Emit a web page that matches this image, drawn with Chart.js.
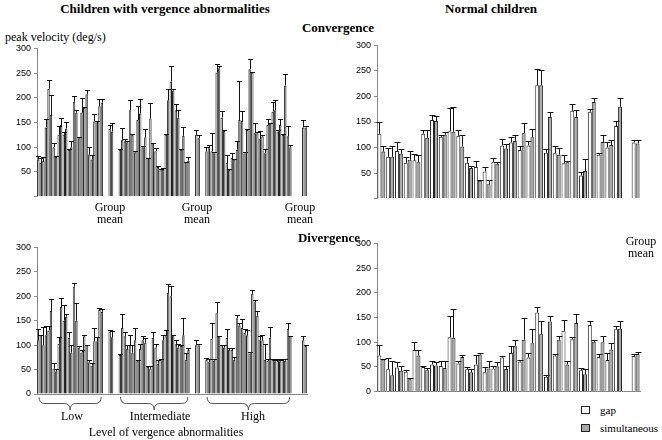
<!DOCTYPE html>
<html>
<head>
<meta charset="utf-8">
<script src="https://cdn.jsdelivr.net/npm/chart.js@4.4.1/dist/chart.umd.min.js"></script>
<style>
  body { margin: 0; width: 662px; height: 440px; background: #fff; position: relative; overflow: hidden; font-family: 'Liberation Serif', 'Times New Roman', serif; color: #000; }
  .panel { position: absolute; }
  .txt { position: absolute; white-space: nowrap; font-family: 'Liberation Serif', 'Times New Roman', serif; font-size: 12px; line-height: 12px; }
  .b { font-weight: bold; font-size: 13px; line-height: 13px; }
  .c { transform: translateX(-50%); text-align: center; }
  .sw { position: absolute; width: 7px; height: 6px; border: 1px solid #222; }
</style>
</head>
<body>

<div class="txt b c" style="left:165px; top:2px;">Children with vergence abnormalities</div>
<div class="txt b c" style="left:491px; top:2px;">Normal children</div>
<div class="txt b c" style="left:338px; top:21px;">Convergence</div>
<div class="txt" style="left:5px; top:31px;">peak velocity (deg/s)</div>

<div class="panel" style="left:0; top:40px;"><canvas id="convAbn" width="312" height="165"></canvas></div>
<div class="panel" style="left:340px; top:37px;"><canvas id="convNorm" width="310" height="170"></canvas></div>
<div class="panel" style="left:0; top:239px;"><canvas id="divAbn" width="312" height="175"></canvas></div>
<div class="panel" style="left:340px; top:235px;"><canvas id="divNorm" width="310" height="165"></canvas></div>

<div class="txt c" style="left:110px; top:201px;">Group<br>mean</div>
<div class="txt c" style="left:197px; top:201px;">Group<br>mean</div>
<div class="txt c" style="left:300px; top:201px;">Group<br>mean</div>
<div class="txt c" style="left:641px; top:235px;">Group<br>mean</div>

<div class="txt b c" style="left:329px; top:231px;">Divergence</div>

<div class="txt c" style="left:72px; top:410px;">Low</div>
<div class="txt c" style="left:160px; top:410px;">Intermediate</div>
<div class="txt c" style="left:253px; top:410px;">High</div>
<div class="txt c" style="left:166px; top:426px;">Level of vergence abnormalities</div>

<div class="sw" style="left:581px; top:406px; background:#fff;"></div>
<div class="txt" style="left:600px; top:404px; font-size:11px;">gap</div>
<div class="sw" style="left:581px; top:424px; background:#a8a8a8;"></div>
<div class="txt" style="left:600px; top:422px; font-size:11px;">simultaneous</div>

<script>
// Children with vergence abnormalities: slots = low(13), -, mean, -, intermediate(14), -, mean, -, high(17), -, -, mean
const convAbnGap   = [75,72,218,100,125,125,95,192,118,180,85,152,183, null,137,null, 95,112,175,90,168,120,158,92,55,125,233,175,95,70, null,125,null, 92,92,251,160,68,78,95,153,135,251,128,122,145,172,132,125,122, null,null,140];
const convAbnGapSd = [7,8,18,8,18,5,2,11,2,2,15,16,14, null,8,null, 1,5,20,2,30,17,32,6,1,1,32,12,1,1, null,10,null, 8,36,18,13,17,10,17,20,2,2,2,2,13,20,2,2,20, null,null,15];
const convAbnSim   = [68,140,165,80,145,138,100,170,170,207,75,153,190, null,132,null, 115,110,125,155,100,78,108,60,55,195,215,160,123,73, null,118,null, 98,88,260,133,54,75,155,88,258,128,116,88,148,175,145,225,100, null,null,140];
const convAbnSimSd = [10,18,40,2,15,14,13,5,30,8,10,1,8, null,16,null, 23,3,2,28,2,1,1,1,2,22,2,15,17,7, null,7,null, 7,2,5,2,2,2,78,2,20,20,16,8,2,21,13,24,5, null,null,2];

const divAbnGap   = [110,100,130,52,103,150,115,220,95,118,65,108,172, null,128,null, 80,118,100,110,92,105,52,95,70,118,200,102,98,70, null,100,null, 70,113,165,100,115,90,155,135,120,205,160,110,68,70,68,70,133, null,null,110];
const divAbnGapSd = [24,38,10,11,14,32,11,7,3,3,4,27,4, null,2,null, 2,9,20,25,10,10,5,8,1,12,22,8,2,13, null,10,null, 3,33,23,1,18,4,7,18,10,7,10,10,4,1,3,1,12, null,null,8];
const divAbnSim   = [120,120,170,46,178,158,85,150,85,100,58,108,168, null,116,null, 135,92,85,68,110,55,115,62,110,207,120,95,120,90, null,100,null, 65,68,118,95,90,70,140,125,83,188,110,70,115,67,67,68,118, null,null,98];
const divAbnSimSd = [1,20,25,6,19,5,15,37,5,1,5,9,5, null,12,null, 28,8,15,2,8,3,12,8,11,18,1,8,36,5, null,2,null, 7,4,1,5,5,5,5,7,2,5,8,33,22,3,3,4,1, null,null,2];

// slot index ranges of the three levels (for the braces)
const levelRanges = [[0, 12], [16, 29], [33, 49]];

// Normal children: 28 subjects, -, group mean
const convNormGap   = [127,82,93,70,75,127,154,121,132,123,70,62,53,72,104,110,95,104,222,90,89,69,172,45,170,86,100,142, null,110];
const convNormGapSd = [23,18,17,12,13,7,9,3,46,12,12,11,9,8,12,10,8,9,31,7,14,16,14,8,6,3,10,10, null,5];
const convNormSim   = [92,82,88,76,71,119,152,125,131,102,60,35,28,68,98,113,128,120,222,160,86,71,160,54,189,111,105,180, null,108];
const convNormSimSd = [11,21,9,17,14,15,9,5,49,23,3,2,9,4,9,12,21,16,29,10,13,3,13,23,8,14,10,17, null,7];

const divNormGap   = [73,45,49,40,84,50,55,52,110,57,45,55,39,47,69,78,61,69,160,30,73,123,106,43,135,70,64,126, null,72];
const divNormGapSd = [21,23,10,3,16,1,6,10,44,4,5,19,11,5,3,15,2,9,11,4,4,21,5,4,8,7,14,6, null,4];
const divNormSim   = [65,33,42,25,73,43,53,48,109,70,39,75,47,51,46,93,105,98,116,142,105,55,139,35,101,100,85,127, null,76];
const divNormSimSd = [1,28,10,2,12,5,7,14,58,4,6,4,14,8,6,12,43,29,27,12,7,7,18,10,3,12,14,16, null,4];

const yTicks = [0, 50, 100, 150, 200, 250, 300];

// error bars (upper half only, with cap)
const errorBars = {
    id: 'errorBars',
    afterDatasetsDraw(chart) {
        const ctx = chart.ctx;
        const y = chart.scales.y;
        ctx.save();
        ctx.strokeStyle = '#111';
        ctx.lineWidth = 1;
        chart.data.datasets.forEach((ds, di) => {
            chart.getDatasetMeta(di).data.forEach((bar, i) => {
                const v = ds.data[i];
                if (v == null) return;
                const top = Math.round(y.getPixelForValue(v + ds.sd[i])) + 0.5;
                const x = Math.round(bar.x) + 0.5;
                const half = Math.max(bar.width / 2 + 1, 2.5);
                ctx.beginPath();
                ctx.moveTo(x, bar.y);
                ctx.lineTo(x, top);
                ctx.moveTo(x - half, top);
                ctx.lineTo(x + half, top);
                ctx.stroke();
            });
        });
        ctx.restore();
    }
};

// curly braces under the three levels
const braces = {
    id: 'braces',
    afterDraw(chart) {
        const x = chart.scales.x;
        const ctx = chart.ctx;
        const y0 = chart.chartArea.bottom + 3;
        const h = 13;
        const w = x.getPixelForValue(1) - x.getPixelForValue(0);
        ctx.save();
        ctx.strokeStyle = '#555';
        ctx.lineWidth = 1;
        levelRanges.forEach(([a, b]) => {
            const l = x.getPixelForValue(a) - w / 2 + 2;
            const r = x.getPixelForValue(b) + w / 2 - 2;
            const m = (l + r) / 2;
            const mid = y0 + h / 2;
            ctx.beginPath();
            ctx.moveTo(l, y0);
            ctx.quadraticCurveTo(l, mid, l + 6, mid);
            ctx.lineTo(m - 6, mid);
            ctx.quadraticCurveTo(m, mid, m, y0 + h);
            ctx.quadraticCurveTo(m, mid, m + 6, mid);
            ctx.lineTo(r - 6, mid);
            ctx.quadraticCurveTo(r, mid, r, y0);
            ctx.stroke();
        });
        ctx.restore();
    }
};

function makePanel(id, gap, gapSd, sim, simSd, opt) {
    const barStyle = { categoryPercentage: opt.cat, barPercentage: 1, borderWidth: 1, borderColor: '#222', borderSkipped: 'bottom' };
    return new Chart(document.getElementById(id), {
        type: 'bar',
        data: {
            labels: gap.map(() => ''),
            datasets: [
                Object.assign({ label: 'gap', data: gap, sd: gapSd, backgroundColor: '#ffffff' }, barStyle),
                Object.assign({ label: 'simultaneous', data: sim, sd: simSd, backgroundColor: '#a8a8a8' }, barStyle)
            ]
        },
        options: {
            responsive: false,
            animation: false,
            layout: { padding: opt.pad },
            plugins: { legend: { display: false }, tooltip: { enabled: false } },
            scales: {
                x: {
                    display: opt.baseline,
                    grid: { display: false },
                    ticks: { display: false },
                    border: { display: true, color: '#888' },
                    afterFit: s => { s.height = 0; }
                },
                y: {
                    min: 0,
                    max: 300,
                    afterBuildTicks: s => { s.ticks = yTicks.map(v => ({ value: v })); },
                    ticks: {
                        color: '#000',
                        padding: 3,
                        font: { family: 'Liberation Sans', size: 9 },
                        callback: v => (v === 0 && !opt.zero) ? '' : v
                    },
                    grid: { drawOnChartArea: false, tickLength: 3, color: '#888' },
                    border: { color: '#888' },
                    afterFit: s => { s.width = 37; }
                }
            }
        },
        plugins: [errorBars].concat(opt.extra || [])
    });
}

makePanel('convAbn', convAbnGap, convAbnGapSd, convAbnSim, convAbnSimSd,
    { cat: 0.95, pad: { top: 7, bottom: 7, left: 0, right: 5 }, baseline: false, zero: false });
makePanel('convNorm', convNormGap, convNormGapSd, convNormSim, convNormSimSd,
    { cat: 0.9, pad: { top: 7, bottom: 8, left: 0, right: 10 }, baseline: false, zero: false });
makePanel('divAbn', divAbnGap, divAbnGapSd, divAbnSim, divAbnSimSd,
    { cat: 0.95, pad: { top: 7, bottom: 20, left: 0, right: 5 }, baseline: true, zero: true, extra: [braces] });
makePanel('divNorm', divNormGap, divNormGapSd, divNormSim, divNormSimSd,
    { cat: 0.9, pad: { top: 7, bottom: 5, left: 0, right: 10 }, baseline: true, zero: true });
</script>
</body>
</html>
